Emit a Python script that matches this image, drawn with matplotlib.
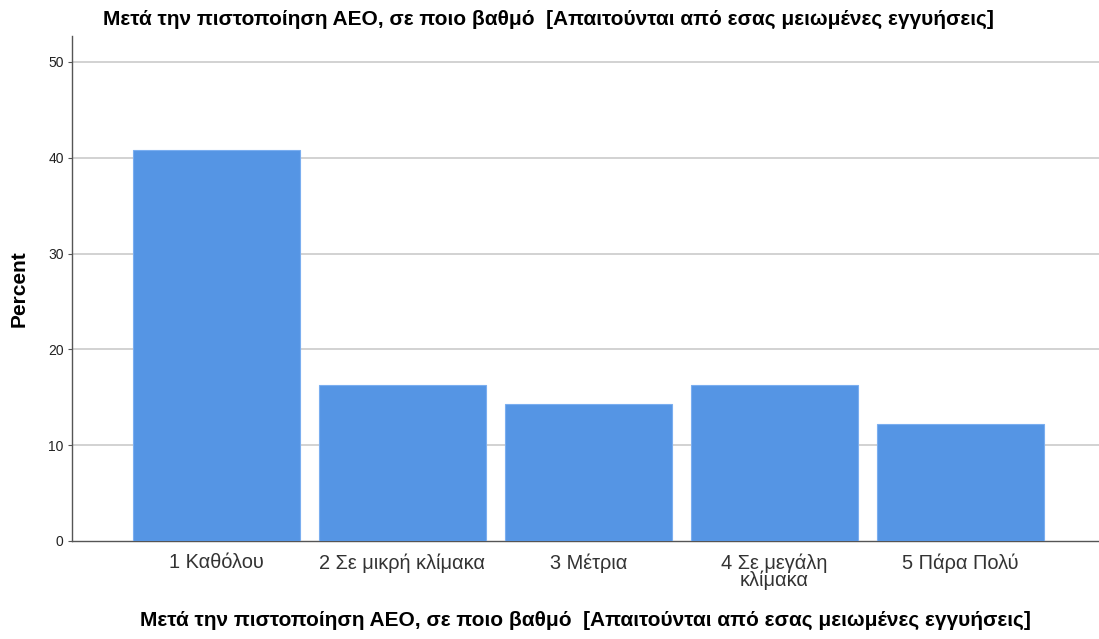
import matplotlib
matplotlib.use("Agg")
import matplotlib.pyplot as plt
import numpy as np

plt.rcParams['font.family'] = ['Liberation Sans', 'DejaVu Sans']

categories = ["1 Καθόλου", "2 Σε μικρή κλίμακα", "3 Μέτρια", "4 Σε μεγάλη\nκλίμακα", "5 Πάρα Πολύ"]
percent = [40.8, 16.3, 14.3, 16.3, 12.2]
yticks = [0, 10, 20, 30, 40, 50]
title = "Μετά την πιστοποίηση ΑΕΟ, σε ποιο βαθμό  [Απαιτούνται από εσας μειωμένες εγγυήσεις]"

fig = plt.figure(figsize=(10.99, 6.39), dpi=100)
ax = fig.add_axes([0.0655, 0.1534, 0.9345, 0.7903])

x = np.arange(len(categories))
ax.bar(x, percent, width=0.898, color='#5595e4', edgecolor='#7aaef0', linewidth=0.8, zorder=3)

ax.set_xlim(-0.777, 4.745)
ax.set_ylim(0, 52.7)
ax.set_yticks(yticks)
ax.set_yticklabels([str(t) for t in yticks], fontsize=10, color='#222222')
ax.set_xticks(x)
ax.set_xticklabels(categories, fontsize=14.4, color='#333333', linespacing=0.85)
ax.tick_params(axis='x', length=0, pad=9)
ax.tick_params(axis='y', length=3, width=0.8, color='#555555', pad=3)

for t in yticks[1:]:
    ax.axhline(t, color='#d2d2d2', linewidth=1.4, zorder=1)

for s in ['top', 'right']:
    ax.spines[s].set_visible(False)
ax.spines['left'].set_color('#555555')
ax.spines['bottom'].set_color('#555555')
ax.spines['left'].set_linewidth(1.0)
ax.spines['bottom'].set_linewidth(1.0)

ax.set_ylabel("Percent", fontsize=15, fontweight='bold', labelpad=14)
ax.set_xlabel(title, fontsize=15, fontweight='bold', labelpad=15)
fig.text(0.499, 0.970, title, ha='center', va='center', fontsize=15, fontweight='bold')

fig.savefig("out.png", dpi=100, facecolor='white')
